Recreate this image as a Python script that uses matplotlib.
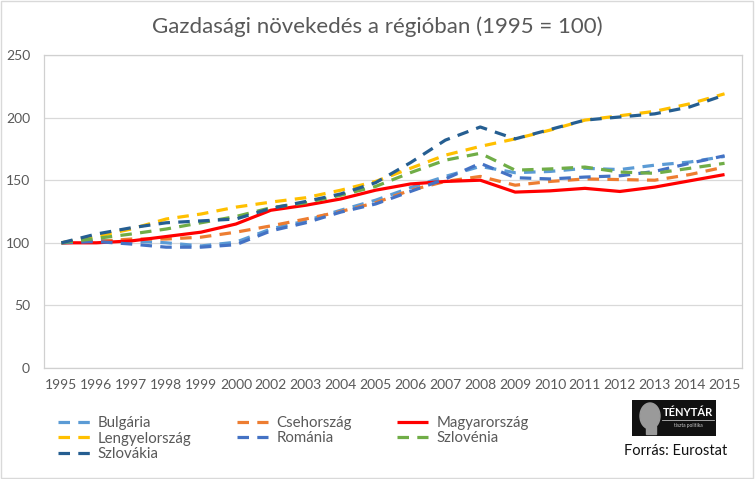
import matplotlib.pyplot as plt
from matplotlib.patches import Rectangle, Ellipse

years = ['1995', '1996', '1997', '1998', '1999', '2000', '2002', '2003', '2004', '2005',
         '2006', '2007', '2008', '2009', '2010', '2011', '2012', '2013', '2014', '2015']

bulgaria = [100, 102, 101.5, 100, 97.5, 100.5, 111, 117.5, 126, 134,
            144, 153, 161, 156, 157, 159.5, 158.5, 162, 164.5, 169]
csehorszag = [100, 101, 103, 103, 104.5, 108.5, 113.5, 119, 125, 132,
              142, 149, 153, 146, 149, 151, 150.5, 150, 154.5, 160.5]
magyarorszag = [100, 100, 101.5, 105, 108.5, 115, 126, 130, 135, 142,
                147, 149, 150, 140.5, 141.5, 143.5, 141, 144.5, 149.5, 154.5]
lengyelorszag = [100, 105, 111, 119, 123, 128.5, 132.5, 136, 142, 149,
                 159.5, 170, 177, 183, 190, 198, 201.5, 205, 211, 219]
romania = [100, 101, 99, 96.5, 96.5, 98.5, 109.5, 116, 124.5, 131,
           141, 151, 163.5, 152, 151, 152.5, 153.5, 157, 163.5, 169.5]
szlovenia = [100, 103.5, 107, 111, 116, 121, 128, 132, 138, 145,
             156, 166, 171.5, 158, 159, 160.5, 156.5, 155.5, 159.5, 163.5]
szlovakia = [100, 107, 112, 116, 117.5, 119, 127.5, 133, 139, 148,
             164, 182, 192.5, 183, 190.5, 198, 200.5, 203, 208.5, 218]

series = [
    ('Bulgária', bulgaria, '#5B9BD5', 'dash'),
    ('Csehország', csehorszag, '#ED7D31', 'dash'),
    ('Magyarország', magyarorszag, '#FF0000', 'solid'),
    ('Lengyelország', lengyelorszag, '#FFC000', 'dash'),
    ('Románia', romania, '#4472C4', 'dash'),
    ('Szlovénia', szlovenia, '#70AD47', 'dash'),
    ('Szlovákia', szlovakia, '#255E91', 'dash'),
]

plt.rcParams['font.family'] = ['Lato', 'DejaVu Sans']
grey = '#595959'

fig = plt.figure(figsize=(7.56, 4.79), dpi=100)
ax = fig.add_axes([44 / 756, 1 - 368 / 479, 698 / 756, 313 / 479])

x = range(len(years))
lines = {}
for name, vals, col, style in series:
    ls = '-' if style == 'solid' else (0, (3.6, 2.6))
    ln, = ax.plot(x, vals, color=col, lw=2.3, ls=ls, label=name,
                  solid_capstyle='butt', dash_capstyle='butt')
    lines[name] = ln

ax.set_xlim(-0.5, len(years) - 0.5)
ax.set_ylim(0, 250)
ax.set_yticks([0, 50, 100, 150, 200, 250])
ax.set_xticks(list(x))
ax.set_xticklabels(years)
ax.tick_params(length=0, colors=grey, labelsize=10)
ax.tick_params(axis='y', pad=10)
ax.tick_params(axis='x', pad=8)
ax.grid(axis='y', color='#D9D9D9', lw=0.9)
ax.set_axisbelow(True)
for s in ax.spines.values():
    s.set_color('#D0D0D0')
    s.set_linewidth(0.9)

fig.text(377 / 756, 1 - 27 / 479, 'Gazdasági növekedés a régióban (1995 = 100)',
         ha='center', va='center', fontsize=16, color=grey)

# legend ordered so that it reads row by row
order = ['Bulgária', 'Lengyelország', 'Szlovákia', 'Csehország', 'Románia',
         'Magyarország', 'Szlovénia']
fig.legend([lines[n] for n in order], order, ncol=3, frameon=False,
           loc='upper left', bbox_to_anchor=(52 / 756, 1 - 410 / 479),
           fontsize=10.8, labelcolor=grey, handlelength=2.1, handletextpad=0.55,
           columnspacing=3.0, labelspacing=0.1, borderaxespad=0)

# logo
lax = fig.add_axes([632 / 756, 1 - 436 / 479, 84 / 756, 36 / 479])
lax.set_xlim(0, 84)
lax.set_ylim(0, 36)
lax.axis('off')
lax.add_patch(Rectangle((0, 0), 84, 36, color='#111111'))
lax.add_patch(Ellipse((18, 20), 20, 26, color='#9a9a9a'))
lax.add_patch(Rectangle((14, 2), 10, 8, color='#9a9a9a'))
lax.plot([30, 82], [16, 16], color='#bbbbbb', lw=0.6)
lax.text(56, 23, 'TÉNYTÁR', color='white', fontsize=8, fontweight='bold',
         ha='center', va='center')
lax.text(56, 11, 'tiszta politika', color='#cccccc', fontsize=3.5,
         ha='center', va='center')

fig.text(676 / 756, 1 - 451 / 479, 'Forrás: Eurostat', ha='center', va='center',
         fontsize=10.5, color='#111111')

fig.patches.append(Rectangle((0.001, 0.003), 0.995, 0.995, transform=fig.transFigure,
                             fill=False, edgecolor='#D9D9D9', lw=1))

plt.savefig('out.png', dpi=100)
